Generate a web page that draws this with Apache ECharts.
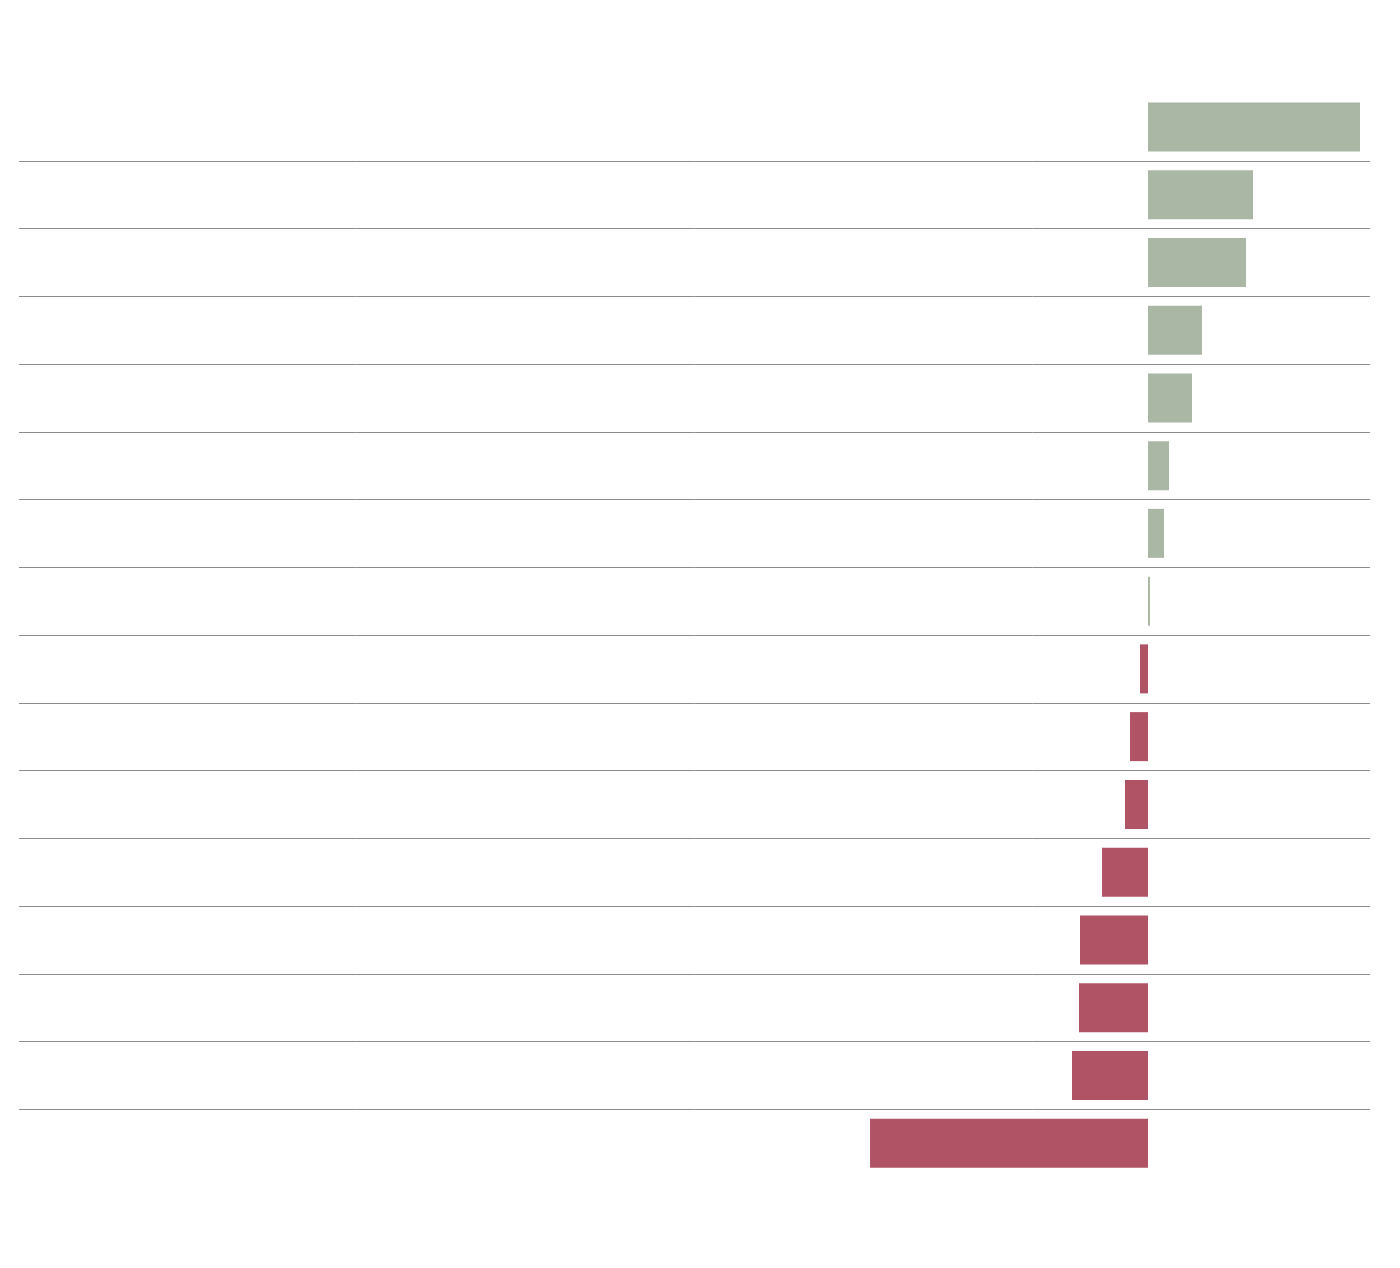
<!DOCTYPE html>
<html>
<head>
<meta charset="utf-8">
<script src="https://cdn.jsdelivr.net/npm/echarts@6/dist/echarts.min.js"></script>
<style>
  html, body { margin: 0; padding: 0; background: #fff; }
  #chart { width: 1400px; height: 1268px; }
</style>
</head>
<body>
<div id="chart"></div>
<script>
// 行（从上到下），图中没有文字标签
const rows = ['r1', 'r2', 'r3', 'r4', 'r5', 'r6', 'r7', 'r8',
              'r9', 'r10', 'r11', 'r12', 'r13', 'r14', 'r15', 'r16'];
// 数值（零点右为正，左为负）
const values = [21.2, 10.5, 9.8, 5.4, 4.4, 2.1, 1.6, 0.2,
                -0.8, -1.8, -2.3, -4.6, -6.8, -6.9, -7.6, -27.8];
// 数轴范围
const xMin = -112.9;
const xMax = 22.2;

const posColor = '#abb7a5';
const negColor = '#b05365';

const chart = echarts.init(document.getElementById('chart'));

chart.setOption({
    animation: false,
    backgroundColor: '#ffffff',
    grid: { left: 19, right: 30, top: 93, bottom: 91, containLabel: false },
    xAxis: {
        type: 'value',
        min: xMin,
        max: xMax,
        axisLine: { show: false },
        axisTick: { show: false },
        axisLabel: { show: false },
        splitLine: { show: false }
    },
    yAxis: [
        {
            type: 'category',
            data: rows,
            inverse: true,
            axisLine: { show: false },
            axisTick: { show: false },
            axisLabel: { show: false },
            splitLine: { show: false }
        },
        {
            // 行之间的分隔线
            type: 'value',
            min: 0,
            max: rows.length,
            interval: 1,
            position: 'left',
            axisLine: { show: false },
            axisTick: { show: false },
            axisLabel: { show: false },
            splitLine: {
                show: true,
                showMinLine: false,
                showMaxLine: false,
                lineStyle: { color: '#8c8c8c', width: 1 }
            }
        }
    ],
    series: [{
        type: 'bar',
        yAxisIndex: 0,
        barWidth: 49,
        data: values.map(v => ({
            value: v,
            itemStyle: { color: v >= 0 ? posColor : negColor }
        }))
    }]
});
</script>
</body>
</html>
